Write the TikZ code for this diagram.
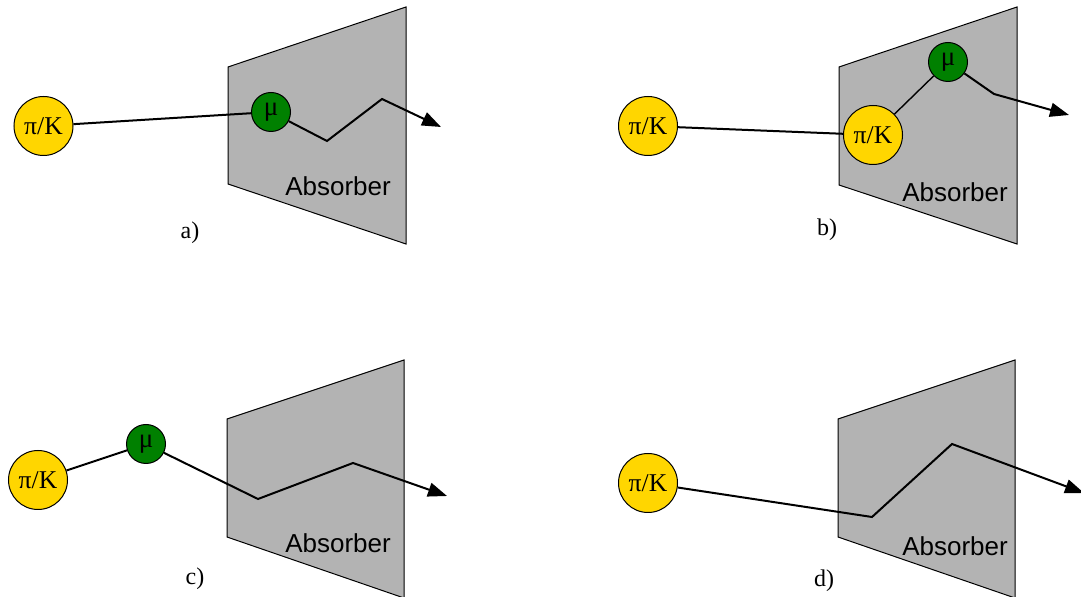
\documentclass[tikz,border=0pt]{standalone}
\usepackage{fontspec}
\setmainfont{Liberation Serif}
\newfontfamily\absfont{Liberation Sans}
\usepackage{xcolor}
\usetikzlibrary{arrows.meta, positioning}
\definecolor{pionyellow}{RGB}{255,214,0}
\definecolor{muongreen}{RGB}{0,128,0}
\definecolor{absgray}{RGB}{179,179,179}

\begin{document}
\begin{tikzpicture}[x=0.5pt, y=-0.5pt,
  pion/.style={draw, circle, fill=pionyellow, line width=0.5pt, minimum size=29.5pt, inner sep=0pt, font=\fontsize{12.8}{14}\selectfont},
  muon/.style={draw, circle, fill=muongreen, line width=0.5pt, minimum size=19.5pt, inner sep=0pt, font=\fontsize{13.5}{14}\selectfont},
  absorber/.style={draw, fill=absgray, line width=0.5pt},
  abslabel/.style={font=\absfont\fontsize{13}{15}\selectfont},
  caselabel/.style={font=\fontsize{12}{14}\selectfont},
  track/.style={line width=1pt, line join=miter},
  arrowtrack/.style={track, -{Triangle[length=9.5pt, width=7pt]}}]

\useasboundingbox (0,0) rectangle (1081,597);

% absorbers
\draw[absorber] (228,67) -- (406,7) -- (406,244) -- (228,184) -- cycle;
\draw[absorber] (839,67) -- (1017,7) -- (1017,244) -- (839,185) -- cycle;
\draw[absorber] (227,419) -- (404,360) -- (404,598) -- (227,537) -- cycle;
\draw[absorber] (838,419) -- (1015,360) -- (1015,598) -- (838,537) -- cycle;

\node[abslabel] (absa) at (338,186) {Absorber};
\node[abslabel] (absb) at (955,192) {Absorber};
\node[abslabel] (absc) at (338,543) {Absorber};
\node[abslabel] (absd) at (955,546) {Absorber};

% a)
\node[pion] (pia) at (43.5,126) {π/K};
\node[muon] (mua) at (271,112) {μ};
\coordinate (a1) at (327,141);
\coordinate (a2) at (382,99);
\coordinate (a3) at (441,127);
\draw[track] (pia) -- (mua);
\draw[arrowtrack] (mua) -- (a1) -- (a2) -- (a3);
\node[caselabel] (casea) at (190,233) {a)};

% b)
\node[pion] (pib) at (648,126) {π/K};
\node[pion] (pibabs) at (873,135) {π/K};
\node[muon] (mub) at (948,62) {μ};
\coordinate (b1) at (994,94);
\coordinate (b2) at (1069,115);
\draw[track] (pib) -- (pibabs);
\draw[line width=0.7pt] (pibabs) -- (mub);
\draw[arrowtrack] (mub) -- (b1) -- (b2);
\node[caselabel] (caseb) at (827,230) {b)};

% c)
\node[pion] (pic) at (38,480) {π/K};
\node[muon] (muc) at (146,444) {μ};
\coordinate (c1) at (258,499);
\coordinate (c2) at (353,463);
\coordinate (c3) at (447,496);
\draw[track] (pic) -- (muc);
\draw[arrowtrack] (muc) -- (c1) -- (c2) -- (c3);
\node[caselabel] (casec) at (195,579) {c)};

% d)
\node[pion] (pid) at (648,483) {π/K};
\coordinate (d1) at (872,517);
\coordinate (d2) at (952,444);
\coordinate (d3) at (1084,493);
\draw[arrowtrack] (pid) -- (d1) -- (d2) -- (d3);
\node[caselabel] (cased) at (824,581) {d)};

\end{tikzpicture}
\end{document}
